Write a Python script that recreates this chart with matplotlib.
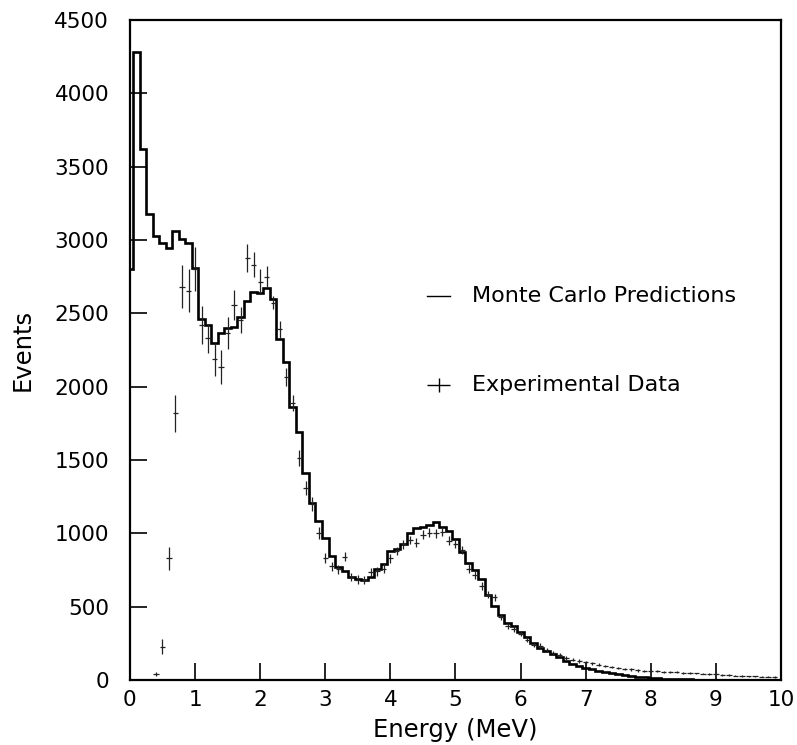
import numpy as np
import matplotlib
matplotlib.use("Agg")
import matplotlib.pyplot as plt

# Monte Carlo histogram: bins of 0.1 MeV centred on 0.0, 0.1, ..., 9.9
mc_centers = np.round(np.arange(0, 100) * 0.1, 2)
mc_values = [
    2800, 4280, 3620, 3180, 3030, 2980, 2945, 3060, 3005, 2980,
    2807, 2461, 2418, 2300, 2364, 2400, 2405, 2477, 2586, 2648,
    2636, 2670, 2595, 2323, 2170, 1859, 1693, 1409, 1209, 1086,
    966, 845, 770, 740, 705, 690, 680, 705, 755, 790,
    880, 895, 930, 1005, 1034, 1045, 1057, 1075, 1045, 1015,
    960, 870, 800, 750, 690, 580, 505, 445, 390, 365,
    330, 295, 255, 220, 200, 175, 155, 130, 112, 96,
    82, 72, 64, 55, 48, 42, 35, 28, 24, 19,
    15, 12, 10, 8, 7, 5, 4, 3, 2, 2,
    1, 1, 1, 1, 0, 0, 0, 0, 0, 0,
]

# Experimental data points (energy, events, error)
exp_energy = np.round(np.arange(4, 100) * 0.1, 2)
exp_values = [
    40, 227, 830, 1818, 2682, 2655, 2800, 2420, 2330, 2186,
    2136, 2364, 2557, 2455, 2875, 2830, 2716, 2750, 2573, 2391,
    2064, 1891, 1515, 1310, 1200, 1000, 830, 775, 755, 840,
    705, 685, 680, 735, 740, 760, 830, 880, 925, 955,
    935, 990, 1005, 1000, 1010, 950, 930, 885, 760, 715,
    640, 580, 565, 430, 370, 348, 315, 275, 240, 235,
    205, 182, 170, 150, 140, 130, 122, 114, 105, 95,
    88, 82, 75, 72, 66, 63, 61, 59, 57, 55,
    52, 49, 47, 45, 44, 42, 40, 36, 33, 30,
    27, 25, 25, 24, 23, 22,
]
exp_errors = [
    15, 50, 80, 125, 145, 145, 150, 130, 100, 110,
    115, 110, 105, 90, 95, 85, 85, 70, 45, 60,
    60, 55, 55, 50, 45, 40, 35, 30, 30, 30,
    28, 28, 28, 28, 28, 28, 30, 30, 30, 30,
    30, 30, 30, 30, 30, 30, 30, 28, 28, 26,
    25, 24, 24, 22, 20, 20, 18, 17, 16, 16,
    15, 14, 13, 12, 12, 11, 11, 10, 10, 9,
    9, 9, 8, 8, 8, 8, 7, 7, 7, 7,
    7, 7, 6, 6, 6, 6, 6, 6, 5, 5,
    5, 5, 5, 5, 5, 5,
]

x_ticks = list(range(0, 11))
y_ticks = list(range(0, 4501, 500))

plt.rcParams['font.family'] = ['DejaVu Sans']

fig = plt.figure(figsize=(7.97, 7.45), dpi=100)
ax = fig.add_axes([0.163, 0.0872, 0.817, 0.886])

edges = np.append(mc_centers - 0.05, mc_centers[-1] + 0.05)
ax.stairs(mc_values, edges, color='black', linewidth=1.9, baseline=None)

ax.errorbar(exp_energy, exp_values, yerr=exp_errors, xerr=0.04,
            fmt='none', ecolor='#222222', elinewidth=0.9, capsize=0)

ax.set_xlim(0, 10)
ax.set_ylim(0, 4500)
ax.set_xticks(x_ticks)
ax.set_yticks(y_ticks)
ax.tick_params(direction='in', length=12, width=1.2, labelsize=15.5,
               top=False, right=False)
ax.tick_params(axis='x', pad=7)
ax.tick_params(axis='y', pad=15)
for s in ax.spines.values():
    s.set_linewidth(1.6)

ax.set_xlabel('Energy (MeV)', fontsize=17.5, labelpad=6)
ax.set_ylabel('Events', fontsize=17.5, labelpad=14)

# legend drawn manually
ax.plot([4.57, 4.91], [2618, 2618], color='black', linewidth=1.0)
ax.text(5.25, 2618, 'Monte Carlo Predictions', fontsize=16, va='center', ha='left')
ax.errorbar([4.74], [2011], xerr=0.18, yerr=50, fmt='none', ecolor='black',
            elinewidth=1.0, capsize=0)
ax.text(5.25, 2011, 'Experimental Data', fontsize=16, va='center', ha='left')

fig.savefig('out.png', dpi=100)
